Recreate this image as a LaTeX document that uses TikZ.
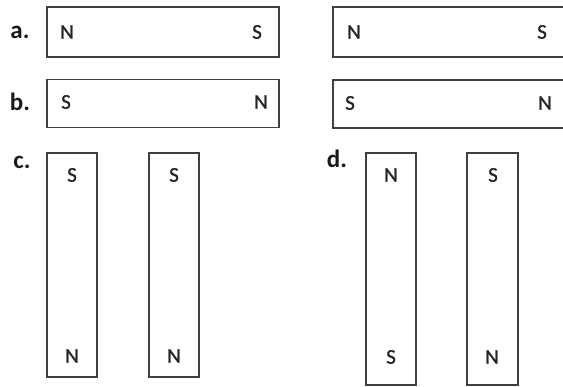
\documentclass[tikz,border=0pt]{standalone}
\usepackage{fontspec}
\setmainfont{Carlito}
\newfontfamily\polefont[FakeBold=1.2]{Carlito}
\begin{document}
\begin{tikzpicture}[x=1pt,y=-1pt,
  magnet/.style={draw=black!75,line width=1.8pt,inner sep=0pt,fill=none},
  pole/.style={font=\polefont\fontsize{21}{21}\selectfont,text=black!85,inner sep=0pt},
  tag/.style={font=\fontsize{25}{25}\selectfont\bfseries,text=black!90,inner sep=0pt}]
\useasboundingbox (0,0) rectangle (563,387);
\clip (0,0) rectangle (563,387);
% row a
\node[magnet,minimum width=232pt,minimum height=50pt] (a1) at (163,32) {};
\node[magnet,minimum width=237pt,minimum height=50pt] (a2) at (451.5,32) {};
% row b
\node[magnet,minimum width=232pt,minimum height=48pt] (b1) at (163,103.5) {};
\node[magnet,minimum width=237pt,minimum height=48pt] (b2) at (451.5,104) {};
% c
\node[magnet,minimum width=50pt,minimum height=224pt] (c1) at (72,265) {};
\node[magnet,minimum width=50pt,minimum height=224pt] (c2) at (174,265) {};
% d
\node[magnet,minimum width=50pt,minimum height=232pt] (d1) at (391,269) {};
\node[magnet,minimum width=51pt,minimum height=232pt] (d2) at (492.5,269) {};
% tags
\node[tag] (ta) at (20,32) {a.};
\node[tag] (tb) at (20,102) {b.};
\node[tag] (tc) at (22,162) {c.};
\node[tag] (td) at (337,159) {d.};
% poles
\node[pole] (a1n) at (67,32) {N};
\node[pole] (a1s) at (257,32) {S};
\node[pole] (a2n) at (354,32) {N};
\node[pole] (a2s) at (542,32) {S};
\node[pole] (b1s) at (66,102) {S};
\node[pole] (b1n) at (261,102) {N};
\node[pole] (b2s) at (350,103) {S};
\node[pole] (b2n) at (545,103) {N};
\node[pole] (c1s) at (72,175) {S};
\node[pole] (c1n) at (72,356) {N};
\node[pole] (c2s) at (174,175) {S};
\node[pole] (c2n) at (174,356) {N};
\node[pole] (d1n) at (391,175) {N};
\node[pole] (d1s) at (391,357) {S};
\node[pole] (d2s) at (493,175) {S};
\node[pole] (d2n) at (492,357) {N};
\end{tikzpicture}
\end{document}
